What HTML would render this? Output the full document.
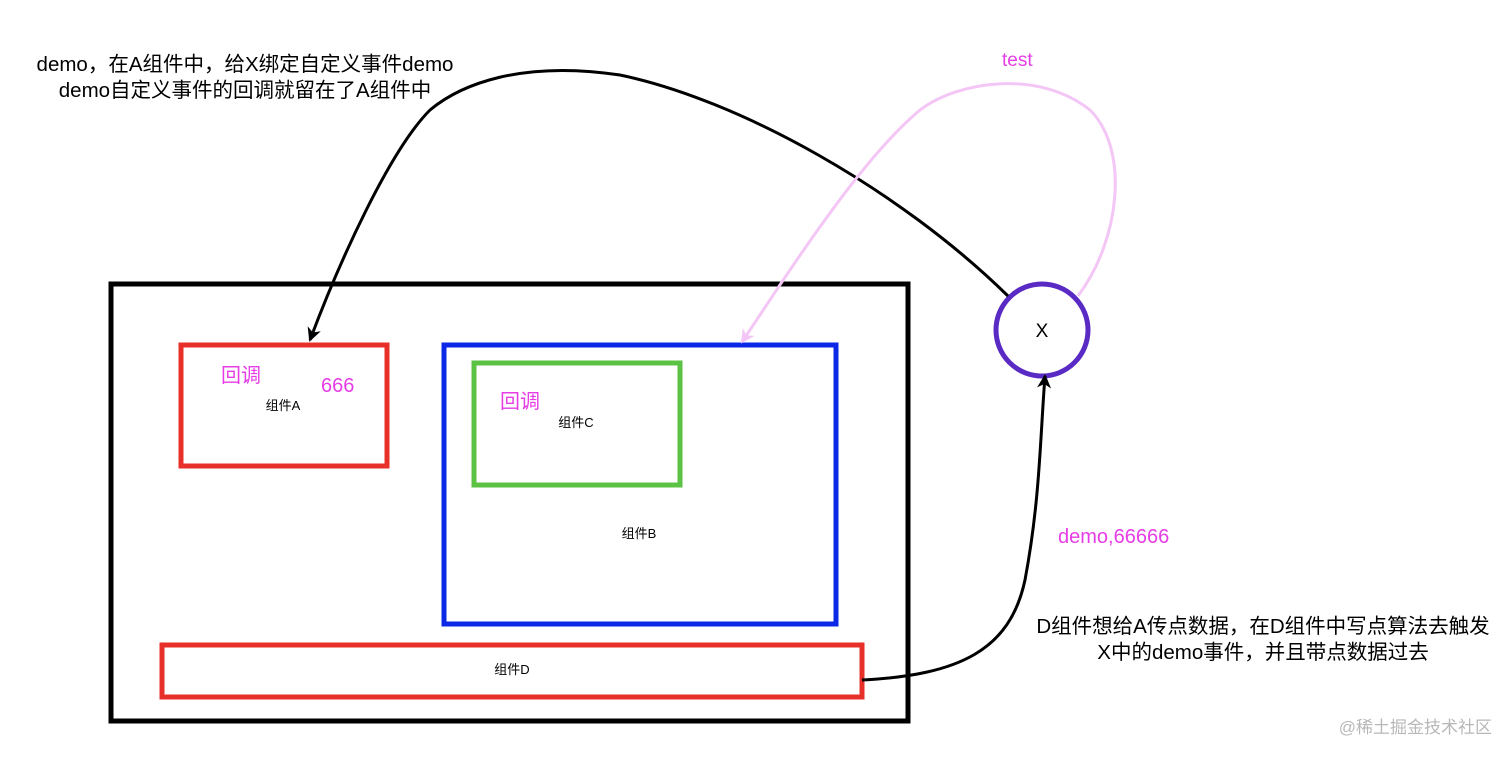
<!DOCTYPE html>
<html><head><meta charset="utf-8"><style>
html,body{margin:0;padding:0;background:#fff;}
svg{display:block;}
text{font-family:"Liberation Sans","Noto Sans CJK SC",sans-serif;}
</style></head><body>
<svg width="1512" height="758" viewBox="0 0 1512 758" xmlns="http://www.w3.org/2000/svg">
<defs>
<marker id="ab" markerWidth="16" markerHeight="16" refX="12" refY="8" orient="auto" markerUnits="userSpaceOnUse"><path d="M0,1 L14,8 L0,15 L4,8 z" fill="#000"/></marker>
<marker id="ap" markerWidth="16" markerHeight="16" refX="12" refY="8" orient="auto" markerUnits="userSpaceOnUse"><path d="M0,1 L14,8 L0,15 L4,8 z" fill="#f3c6f6"/></marker>
</defs>
<rect x="111" y="284" width="797" height="437" fill="none" stroke="#000" stroke-width="5"/>
<rect x="181" y="345" width="206" height="121" fill="none" stroke="#e8302a" stroke-width="5"/>
<rect x="444" y="345" width="392" height="279" fill="none" stroke="#0a28e6" stroke-width="5"/>
<rect x="474" y="363" width="206" height="122" fill="none" stroke="#5cc244" stroke-width="5"/>
<rect x="162" y="645" width="700" height="52" fill="none" stroke="#e8302a" stroke-width="5"/>
<circle cx="1042" cy="330" r="46" fill="#fff" stroke="#5a2bc4" stroke-width="5"/>
<text x="1042" y="337" font-size="19" text-anchor="middle" fill="#000">X</text>
<path d="M1008,296 C900,190 740,100 620,75 C520,60 460,85 430,110 C390,150 340,260 310,340" fill="none" stroke="#000" stroke-width="3" marker-end="url(#ab)"/>
<path d="M1078,296 C1120,240 1130,150 1090,110 C1040,70 960,80 920,110 C860,160 790,270 742,342" fill="none" stroke="#f3c6f6" stroke-width="3" marker-end="url(#ap)"/>
<path d="M862,680 C960,675 1010,650 1025,580 C1040,500 1040,440 1045,376" fill="none" stroke="#000" stroke-width="3" marker-end="url(#ab)"/>
<text x="283" y="410" font-size="13" text-anchor="middle" fill="#000">组件A</text>
<text x="576" y="427" font-size="13" text-anchor="middle" fill="#000">组件C</text>
<text x="639" y="538" font-size="13" text-anchor="middle" fill="#000">组件B</text>
<text x="512" y="674" font-size="13" text-anchor="middle" fill="#000">组件D</text>
<text x="221" y="382" font-size="20" fill="#e63de6">回调</text>
<text x="321" y="392" font-size="20" fill="#e63de6">666</text>
<text x="500" y="408" font-size="20" fill="#e63de6">回调</text>
<text x="1002" y="66" font-size="19" fill="#e63de6">test</text>
<text x="1058" y="543" font-size="20" fill="#e63de6">demo,66666</text>
<text x="245" y="71" font-size="20.5" text-anchor="middle" fill="#000">demo，在A组件中，给X绑定自定义事件demo</text>
<text x="245" y="97" font-size="20.5" text-anchor="middle" fill="#000">demo自定义事件的回调就留在了A组件中</text>
<text x="1263" y="633" font-size="20.5" text-anchor="middle" fill="#000">D组件想给A传点数据，在D组件中写点算法去触发</text>
<text x="1263" y="659" font-size="20.5" text-anchor="middle" fill="#000">X中的demo事件，并且带点数据过去</text>
<text x="1492" y="733" font-size="17" text-anchor="end" fill="#b8b8b8">@稀土掘金技术社区</text>
</svg>
</body></html>
